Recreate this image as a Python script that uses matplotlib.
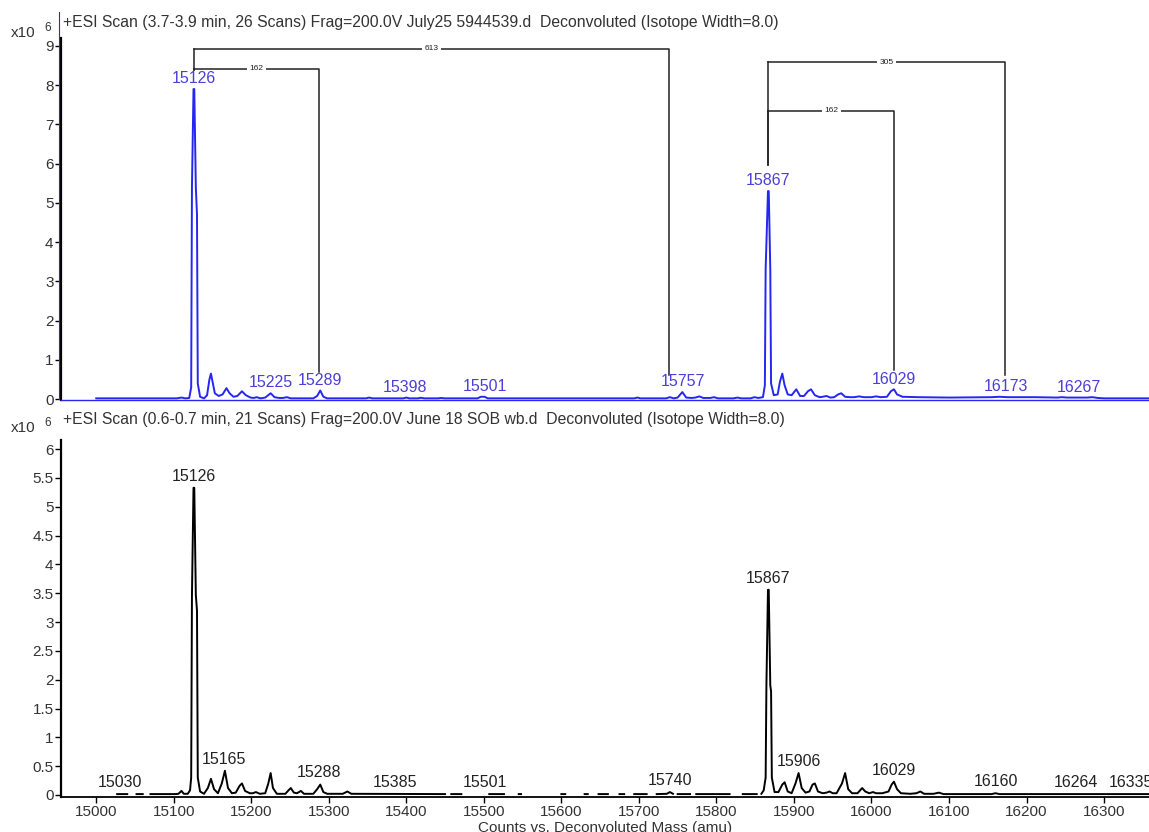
import matplotlib.pyplot as plt
import numpy as np
from matplotlib.lines import Line2D

plt.rcParams['font.family'] = ['Liberation Sans', 'DejaVu Sans']

nan = np.nan

# Top scan (blue): deconvoluted mass (amu) vs counts (x10^6)
top_mass = [15000, 15104, 15110, 15115, 15120, 15122.5, 15123.5, 15125.5, 15126.5, 15128.5,
            15130, 15131, 15134, 15139, 15143, 15146, 15148, 15150, 15153, 15158,
            15163, 15168, 15172, 15177, 15182, 15188, 15193, 15199, 15203, 15207,
            15212, 15218, 15225, 15230, 15236, 15241, 15246, 15251, 15280, 15285,
            15289, 15293, 15298, 15348, 15352, 15356, 15396, 15400, 15404, 15415,
            15419, 15423, 15441, 15445, 15449, 15492, 15496, 15501, 15505, 15694,
            15698, 15702, 15735, 15740, 15745, 15750, 15756, 15761, 15768, 15773,
            15778, 15783, 15792, 15797, 15802, 15822, 15827, 15832, 15844, 15849,
            15854, 15860, 15862.5, 15863.5, 15866.5, 15867.5, 15869.5, 15870.5, 15874, 15879,
            15882, 15885, 15888, 15892, 15897, 15903, 15908, 15913, 15918, 15922,
            15927, 15933, 15937, 15942, 15947, 15952, 15957, 15961, 15966, 15972,
            15978, 15984, 15990, 16000, 16006, 16012, 16020, 16025, 16029, 16033,
            16040, 16060, 16100, 16155, 16165, 16175, 16210, 16240, 16246, 16252,
            16278, 16285, 16292, 16300, 16358]
top_counts = [0.02, 0.02, 0.04, 0.02, 0.03, 0.3, 5.4, 7.9, 7.9, 5.4,
              4.7, 0.4, 0.06, 0.02, 0.1, 0.5, 0.65, 0.45, 0.15, 0.08,
              0.12, 0.28, 0.15, 0.06, 0.08, 0.2, 0.1, 0.04, 0.03, 0.05,
              0.02, 0.04, 0.15, 0.05, 0.03, 0.03, 0.05, 0.02, 0.02, 0.08,
              0.22, 0.06, 0.02, 0.02, 0.04, 0.02, 0.02, 0.04, 0.02, 0.02,
              0.035, 0.02, 0.02, 0.03, 0.02, 0.02, 0.06, 0.06, 0.02, 0.02,
              0.04, 0.02, 0.02, 0.05, 0.02, 0.04, 0.18, 0.04, 0.03, 0.04,
              0.07, 0.03, 0.03, 0.05, 0.02, 0.02, 0.04, 0.02, 0.02, 0.05,
              0.03, 0.05, 0.35, 3.3, 5.3, 5.3, 3.3, 0.4, 0.1, 0.12,
              0.45, 0.65, 0.35, 0.12, 0.1, 0.25, 0.08, 0.08, 0.2, 0.25,
              0.1, 0.05, 0.06, 0.08, 0.04, 0.05, 0.12, 0.15, 0.06, 0.05,
              0.05, 0.07, 0.05, 0.05, 0.07, 0.05, 0.06, 0.2, 0.25, 0.12,
              0.06, 0.05, 0.04, 0.05, 0.06, 0.05, 0.05, 0.04, 0.05, 0.04,
              0.04, 0.05, 0.03, 0.02, 0.02]
top_labels = [15126, 15225, 15289, 15398, 15501, 15757, 15867, 16029, 16173, 16267]

# Bottom scan (black), gaps in the trace are nan
bot_mass = [15027, 15040, nan, 15052, 15060, nan, 15070, 15102, 15106, 15110,
            15113, 15118, 15121, 15122.5, 15123.5, 15125.5, 15126.5, 15128.5, 15130, 15131,
            15134, 15139, 15144, 15148, 15152, 15157, 15162, 15166, 15170, 15175,
            15180, 15185, 15188, 15192, 15198, 15202, 15206, 15211, 15218, 15222,
            15225, 15228, 15233, 15244, 15248, 15251, 15255, 15259, 15264, 15268,
            15280, 15285, 15289, 15293, 15298, 15318, 15324, 15329, 15450, nan,
            15458, 15471, nan, 15507, 15526, nan, 15545, 15548, nan, 15600,
            15605, nan, 15630, 15634, nan, 15648, 15660, nan, 15675, 15681,
            nan, 15694, 15710, nan, 15723, 15736, 15740, 15744, nan, 15750,
            15766, nan, 15774, 15817, nan, 15834, 15852, nan, 15858, 15861,
            15863.5, 15864.5, 15866.5, 15867.5, 15869.5, 15870.5, 15871.5, 15875, 15880, 15885,
            15888, 15892, 15897, 15902, 15906, 15910, 15915, 15920, 15924, 15927,
            15931, 15937, 15942, 15946, 15950, 15955, 15962, 15966, 15970, 15975,
            15982, 15988, 15992, 15997, 16002, 16006, 16014, 16022, 16026, 16029,
            16033, 16038, 16050, 16058, 16063, 16068, 16080, 16087, 16093, 16155,
            16160, 16165, 16358]
bot_counts = [0.015, 0.015, nan, 0.015, 0.015, nan, 0.015, 0.015, 0.02, 0.07,
              0.02, 0.02, 0.08, 0.3, 3.47, 5.33, 5.33, 3.47, 3.2, 0.3,
              0.06, 0.02, 0.12, 0.28, 0.1, 0.03, 0.2, 0.42, 0.12, 0.03,
              0.04, 0.16, 0.2, 0.07, 0.03, 0.03, 0.05, 0.02, 0.03, 0.2,
              0.38, 0.12, 0.02, 0.02, 0.08, 0.12, 0.04, 0.03, 0.07, 0.02,
              0.02, 0.1, 0.18, 0.05, 0.02, 0.02, 0.06, 0.02, 0.015, nan,
              0.015, 0.015, nan, 0.015, 0.015, nan, 0.015, 0.015, nan, 0.015,
              0.015, nan, 0.015, 0.015, nan, 0.015, 0.015, nan, 0.015, 0.015,
              nan, 0.015, 0.015, nan, 0.015, 0.02, 0.05, 0.02, nan, 0.015,
              0.015, nan, 0.015, 0.015, nan, 0.015, 0.015, nan, 0.02, 0.08,
              0.3, 1.9, 3.56, 3.56, 1.9, 1.8, 0.3, 0.05, 0.05, 0.18,
              0.22, 0.06, 0.03, 0.2, 0.38, 0.12, 0.04, 0.06, 0.18, 0.2,
              0.06, 0.03, 0.04, 0.06, 0.03, 0.03, 0.2, 0.38, 0.1, 0.03,
              0.03, 0.12, 0.06, 0.03, 0.05, 0.03, 0.03, 0.06, 0.18, 0.23,
              0.1, 0.03, 0.02, 0.03, 0.06, 0.02, 0.02, 0.04, 0.015, 0.015,
              0.03, 0.015, 0.015]
bot_labels = [15030, 15126, 15165, 15288, 15385, 15501, 15740, 15867, 15906, 16029,
              16160, 16264, 16335]

# mass differences marked on the top scan
bracket_from = [15126, 15126, 15867, 15867]
bracket_span = [613, 162, 305, 162]

top_title = '+ESI Scan (3.7-3.9 min, 26 Scans) Frag=200.0V July25 5944539.d  Deconvoluted (Isotope Width=8.0)'
bot_title = '+ESI Scan (0.6-0.7 min, 21 Scans) Frag=200.0V June 18 SOB wb.d  Deconvoluted (Isotope Width=8.0)'

blue = '#2626f2'
label_blue = '#4b3fd6'
txt = '#333333'

fig = plt.figure(figsize=(11.49, 8.32), dpi=100)
ax1 = fig.add_axes([0.0527, 0.5198, 0.9473, 0.4345])
ax2 = fig.add_axes([0.0527, 0.0421, 0.9473, 0.4291])

xlim = (14954, 16358)


def peak_height(mass, counts, m):
    mass = np.asarray(mass, float)
    counts = np.asarray(counts, float)
    ok = np.isfinite(mass)
    mass, counts = mass[ok], counts[ok]
    win = counts[np.abs(mass - m) <= 4]
    h = np.interp(m, mass, counts)
    if len(win):
        h = max(h, win.max())
    return h


for ax in (ax1, ax2):
    ax.set_xlim(*xlim)
    ax.spines['top'].set_visible(False)
    ax.spines['right'].set_visible(False)
    ax.spines['left'].set_linewidth(1.6)
    ax.tick_params(axis='y', direction='out', length=4, width=1, labelsize=11,
                   labelcolor=txt, pad=1)

# ---- top panel
ax1.plot(top_mass, top_counts, color=blue, lw=1.4)
ax1.set_ylim(-0.01, 9.2)
ax1.set_yticks(range(0, 10))
ax1.tick_params(axis='x', bottom=False, labelbottom=False)
ax1.spines['bottom'].set_color(blue)
ax1.spines['bottom'].set_linewidth(1.0)

for m in top_labels:
    h = peak_height(top_mass, top_counts, m)
    ax1.annotate(str(m), (m, h), xytext=(0, 2), textcoords='offset points',
                 ha='center', va='bottom', fontsize=11.5, color=label_blue)

# brackets: level, left leg bottom, right leg bottom (y in x10^6 units)
levels = [8.93, 8.42, 8.58, 7.35]
left_end = [8.38, 8.38, 5.96, 5.96]
right_end = [0.62, 0.70, 0.62, 0.75]
for a, d, lv, le, re in zip(bracket_from, bracket_span, levels, left_end, right_end):
    b = a + d
    ax1.plot([a, a], [le, lv], color='#222222', lw=1.1)
    ax1.plot([a, b, b], [lv, lv, re], color='#222222', lw=1.1)
    ax1.text((a + b) / 2, lv, str(d), ha='center', va='center', fontsize=6,
             color='#222222', bbox=dict(boxstyle='square,pad=0.3', fc='white', ec='none'))

# ---- bottom panel
ax2.plot(bot_mass, bot_counts, color='black', lw=1.4)
ax2.set_ylim(-0.035, 6.16)
ax2.set_yticks(np.arange(0, 6.01, 0.5))
ax2.set_yticklabels(['0', '0.5', '1', '1.5', '2', '2.5', '3', '3.5', '4', '4.5', '5', '5.5', '6'])
ax2.set_xticks(range(15000, 16301, 100))
ax2.tick_params(axis='x', direction='out', length=4, width=1, labelsize=11,
                labelcolor=txt, pad=2)
ax2.spines['bottom'].set_linewidth(1.3)
ax2.set_xlabel('Counts vs. Deconvoluted Mass (amu)', fontsize=11, color=txt, labelpad=1)

for m in bot_labels:
    h = peak_height(bot_mass, bot_counts, m)
    ax2.annotate(str(m), (m, h), xytext=(0, 3), textcoords='offset points',
                 ha='center', va='bottom', fontsize=11.5, color='#222222',
                 annotation_clip=False)

# scan titles and exponent markers
fig.text(63 / 1149, 1 - 22 / 832, top_title, fontsize=11.3, color=txt, va='center', ha='left')
fig.text(63 / 1149, 1 - 419 / 832, bot_title, fontsize=11.3, color=txt, va='center', ha='left')
for yc in (33, 428):
    fig.text(11 / 1149, 1 - yc / 832, 'x10', fontsize=11, color=txt, va='center')
    fig.text(44 / 1149, 1 - (yc - 5) / 832, '6', fontsize=8.5, color=txt, va='center')

fig.add_artist(Line2D([59 / 1149, 59 / 1149], [1 - 12 / 832, 1 - 399 / 832],
                      transform=fig.transFigure, color=blue, lw=0.8))

fig.savefig('out.png', dpi=100)
